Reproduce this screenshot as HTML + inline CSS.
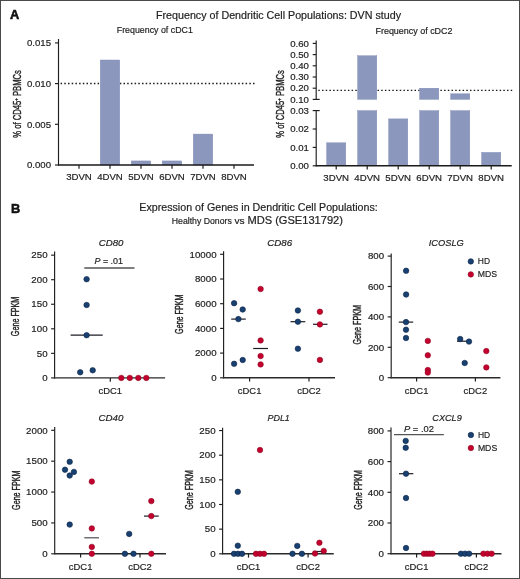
<!DOCTYPE html>
<html><head><meta charset="utf-8">
<style>
html,body{margin:0;padding:0;background:#fff;}
body{width:520px;height:579px;overflow:hidden;}
svg{display:block;font-family:"Liberation Sans", sans-serif;will-change:transform;}
text{stroke:#222;stroke-width:0.18px;}
</style></head>
<body>
<svg width="520" height="579" viewBox="0 0 520 579">
<rect x="0" y="0" width="520" height="579" fill="#fff"/>
<line x1="318.3" y1="90.4" x2="512.7" y2="90.4" stroke="#1a1a1a" stroke-width="1.4" stroke-dasharray="1.5 2.2"/>
<line x1="60.6" y1="83.5" x2="255" y2="83.5" stroke="#1a1a1a" stroke-width="1.4" stroke-dasharray="1.5 2.2"/>
<rect x="100.25" y="59.994" width="19.5" height="105.006" fill="#8c97bd" stroke="#7d89b4" stroke-width="0.4"/>
<rect x="131.25" y="160.93" width="19.5" height="4.069999999999993" fill="#8c97bd" stroke="#7d89b4" stroke-width="0.4"/>
<rect x="162.25" y="160.93" width="19.5" height="4.069999999999993" fill="#8c97bd" stroke="#7d89b4" stroke-width="0.4"/>
<rect x="193.25" y="134.068" width="19.5" height="30.931999999999988" fill="#8c97bd" stroke="#7d89b4" stroke-width="0.4"/>
<rect x="326.59999999999997" y="142.8" width="19.200000000000045" height="23.0" fill="#8c97bd" stroke="#7d89b4" stroke-width="0.4"/>
<rect x="357.59999999999997" y="110.60000000000002" width="19.200000000000045" height="55.19999999999999" fill="#8c97bd" stroke="#7d89b4" stroke-width="0.4"/>
<rect x="357.59999999999997" y="55.720000000000006" width="19.200000000000045" height="43.68" fill="#8c97bd" stroke="#7d89b4" stroke-width="0.4"/>
<rect x="388.59999999999997" y="118.88000000000002" width="19.200000000000045" height="46.91999999999999" fill="#8c97bd" stroke="#7d89b4" stroke-width="0.4"/>
<rect x="419.59999999999997" y="110.60000000000002" width="19.200000000000045" height="55.19999999999999" fill="#8c97bd" stroke="#7d89b4" stroke-width="0.4"/>
<rect x="419.59999999999997" y="88.2" width="19.200000000000045" height="11.200000000000003" fill="#8c97bd" stroke="#7d89b4" stroke-width="0.4"/>
<rect x="450.59999999999997" y="110.60000000000002" width="19.200000000000045" height="55.19999999999999" fill="#8c97bd" stroke="#7d89b4" stroke-width="0.4"/>
<rect x="450.59999999999997" y="93.80000000000001" width="19.200000000000045" height="5.599999999999994" fill="#8c97bd" stroke="#7d89b4" stroke-width="0.4"/>
<rect x="481.59999999999997" y="152.36800000000002" width="19.200000000000045" height="13.431999999999988" fill="#8c97bd" stroke="#7d89b4" stroke-width="0.4"/>
<text x="9.9" y="18.8" font-size="12.8" text-anchor="start" fill="#111" font-weight="bold" style="stroke:#111;stroke-width:0.55px">A</text>
<text x="156" y="18.5" font-size="10.3" text-anchor="start" fill="#222" textLength="245" lengthAdjust="spacingAndGlyphs" >Frequency of Dendritic Cell Populations: DVN study</text>
<text x="116.8" y="33.2" font-size="9" text-anchor="start" fill="#222" textLength="76" lengthAdjust="spacingAndGlyphs" >Frequency of cDC1</text>
<text x="375.5" y="33.6" font-size="9" text-anchor="start" fill="#222" textLength="77" lengthAdjust="spacingAndGlyphs" >Frequency of cDC2</text>
<line x1="58.5" y1="39" x2="58.5" y2="165.5" stroke="#1e1e1e" stroke-width="1.15" />
<line x1="55.0" y1="165.0" x2="58.5" y2="165.0" stroke="#1e1e1e" stroke-width="1.15" />
<text x="51" y="168.2" font-size="9" text-anchor="end" fill="#222" textLength="24.1" lengthAdjust="spacingAndGlyphs" >0.000</text>
<line x1="55.0" y1="124.3" x2="58.5" y2="124.3" stroke="#1e1e1e" stroke-width="1.15" />
<text x="51" y="127.5" font-size="9" text-anchor="end" fill="#222" textLength="24.1" lengthAdjust="spacingAndGlyphs" >0.005</text>
<line x1="55.0" y1="83.6" x2="58.5" y2="83.6" stroke="#1e1e1e" stroke-width="1.15" />
<text x="51" y="86.8" font-size="9" text-anchor="end" fill="#222" textLength="24.1" lengthAdjust="spacingAndGlyphs" >0.010</text>
<line x1="55.0" y1="42.89999999999999" x2="58.5" y2="42.89999999999999" stroke="#1e1e1e" stroke-width="1.15" />
<text x="51" y="46.099999999999994" font-size="9" text-anchor="end" fill="#222" textLength="24.1" lengthAdjust="spacingAndGlyphs" >0.015</text>
<line x1="58.0" y1="165" x2="254" y2="165" stroke="#1a1a1a" stroke-width="1.4" />
<line x1="79" y1="165" x2="79" y2="168.8" stroke="#1e1e1e" stroke-width="1.2" />
<text x="79" y="180.3" font-size="9" text-anchor="middle" fill="#222" textLength="25.69" lengthAdjust="spacingAndGlyphs" >3DVN</text>
<line x1="110" y1="165" x2="110" y2="168.8" stroke="#1e1e1e" stroke-width="1.2" />
<text x="110" y="180.3" font-size="9" text-anchor="middle" fill="#222" textLength="25.69" lengthAdjust="spacingAndGlyphs" >4DVN</text>
<line x1="141" y1="165" x2="141" y2="168.8" stroke="#1e1e1e" stroke-width="1.2" />
<text x="141" y="180.3" font-size="9" text-anchor="middle" fill="#222" textLength="25.69" lengthAdjust="spacingAndGlyphs" >5DVN</text>
<line x1="172" y1="165" x2="172" y2="168.8" stroke="#1e1e1e" stroke-width="1.2" />
<text x="172" y="180.3" font-size="9" text-anchor="middle" fill="#222" textLength="25.69" lengthAdjust="spacingAndGlyphs" >6DVN</text>
<line x1="203" y1="165" x2="203" y2="168.8" stroke="#1e1e1e" stroke-width="1.2" />
<text x="203" y="180.3" font-size="9" text-anchor="middle" fill="#222" textLength="25.69" lengthAdjust="spacingAndGlyphs" >7DVN</text>
<line x1="234" y1="165" x2="234" y2="168.8" stroke="#1e1e1e" stroke-width="1.2" />
<text x="234" y="180.3" font-size="9" text-anchor="middle" fill="#222" textLength="25.69" lengthAdjust="spacingAndGlyphs" >8DVN</text>
<text transform="translate(21.4,103.9) rotate(-90)" x="0" y="0" font-size="10.8" text-anchor="middle" fill="#222" style="stroke-width:0.4px" textLength="67.5" lengthAdjust="spacingAndGlyphs">% of CD45<tspan dy="-3.5" font-size="6">+</tspan><tspan dy="3.5"> PBMCs</tspan></text>
<line x1="316.2" y1="40.4" x2="316.2" y2="99.4" stroke="#1e1e1e" stroke-width="1.15" />
<line x1="312.7" y1="99.4" x2="319.7" y2="99.4" stroke="#1e1e1e" stroke-width="1.15" />
<text x="309" y="102.60000000000001" font-size="9" text-anchor="end" fill="#222" textLength="18.74" lengthAdjust="spacingAndGlyphs" >0.10</text>
<line x1="312.7" y1="88.2" x2="316.2" y2="88.2" stroke="#1e1e1e" stroke-width="1.15" />
<text x="309" y="91.4" font-size="9" text-anchor="end" fill="#222" textLength="18.74" lengthAdjust="spacingAndGlyphs" >0.20</text>
<line x1="312.7" y1="77.0" x2="316.2" y2="77.0" stroke="#1e1e1e" stroke-width="1.15" />
<text x="309" y="80.2" font-size="9" text-anchor="end" fill="#222" textLength="18.74" lengthAdjust="spacingAndGlyphs" >0.30</text>
<line x1="312.7" y1="65.80000000000001" x2="316.2" y2="65.80000000000001" stroke="#1e1e1e" stroke-width="1.15" />
<text x="309" y="69.00000000000001" font-size="9" text-anchor="end" fill="#222" textLength="18.74" lengthAdjust="spacingAndGlyphs" >0.40</text>
<line x1="312.7" y1="54.60000000000001" x2="316.2" y2="54.60000000000001" stroke="#1e1e1e" stroke-width="1.15" />
<text x="309" y="57.80000000000001" font-size="9" text-anchor="end" fill="#222" textLength="18.74" lengthAdjust="spacingAndGlyphs" >0.50</text>
<line x1="312.7" y1="43.400000000000006" x2="316.2" y2="43.400000000000006" stroke="#1e1e1e" stroke-width="1.15" />
<text x="309" y="46.60000000000001" font-size="9" text-anchor="end" fill="#222" textLength="18.74" lengthAdjust="spacingAndGlyphs" >0.60</text>
<line x1="316.2" y1="110.60000000000002" x2="316.2" y2="166.3" stroke="#1e1e1e" stroke-width="1.15" />
<line x1="312.7" y1="110.60000000000002" x2="319.7" y2="110.60000000000002" stroke="#1e1e1e" stroke-width="1.15" />
<line x1="312.7" y1="165.8" x2="316.2" y2="165.8" stroke="#1e1e1e" stroke-width="1.15" />
<text x="309" y="169.0" font-size="9" text-anchor="end" fill="#222" textLength="18.74" lengthAdjust="spacingAndGlyphs" >0.00</text>
<line x1="312.7" y1="147.4" x2="316.2" y2="147.4" stroke="#1e1e1e" stroke-width="1.15" />
<text x="309" y="150.6" font-size="9" text-anchor="end" fill="#222" textLength="18.74" lengthAdjust="spacingAndGlyphs" >0.01</text>
<line x1="312.7" y1="129.0" x2="316.2" y2="129.0" stroke="#1e1e1e" stroke-width="1.15" />
<text x="309" y="132.2" font-size="9" text-anchor="end" fill="#222" textLength="18.74" lengthAdjust="spacingAndGlyphs" >0.02</text>
<text x="309" y="113.80000000000003" font-size="9" text-anchor="end" fill="#222" textLength="18.74" lengthAdjust="spacingAndGlyphs" >0.03</text>
<line x1="315.7" y1="165.8" x2="511.7" y2="165.8" stroke="#1a1a1a" stroke-width="1.4" />
<line x1="336.2" y1="165.8" x2="336.2" y2="169.60000000000002" stroke="#1e1e1e" stroke-width="1.2" />
<text x="336.2" y="181" font-size="9" text-anchor="middle" fill="#222" textLength="25.69" lengthAdjust="spacingAndGlyphs" >3DVN</text>
<line x1="367.2" y1="165.8" x2="367.2" y2="169.60000000000002" stroke="#1e1e1e" stroke-width="1.2" />
<text x="367.2" y="181" font-size="9" text-anchor="middle" fill="#222" textLength="25.69" lengthAdjust="spacingAndGlyphs" >4DVN</text>
<line x1="398.2" y1="165.8" x2="398.2" y2="169.60000000000002" stroke="#1e1e1e" stroke-width="1.2" />
<text x="398.2" y="181" font-size="9" text-anchor="middle" fill="#222" textLength="25.69" lengthAdjust="spacingAndGlyphs" >5DVN</text>
<line x1="429.2" y1="165.8" x2="429.2" y2="169.60000000000002" stroke="#1e1e1e" stroke-width="1.2" />
<text x="429.2" y="181" font-size="9" text-anchor="middle" fill="#222" textLength="25.69" lengthAdjust="spacingAndGlyphs" >6DVN</text>
<line x1="460.2" y1="165.8" x2="460.2" y2="169.60000000000002" stroke="#1e1e1e" stroke-width="1.2" />
<text x="460.2" y="181" font-size="9" text-anchor="middle" fill="#222" textLength="25.69" lengthAdjust="spacingAndGlyphs" >7DVN</text>
<line x1="491.2" y1="165.8" x2="491.2" y2="169.60000000000002" stroke="#1e1e1e" stroke-width="1.2" />
<text x="491.2" y="181" font-size="9" text-anchor="middle" fill="#222" textLength="25.69" lengthAdjust="spacingAndGlyphs" >8DVN</text>
<text transform="translate(284,103.9) rotate(-90)" x="0" y="0" font-size="10.8" text-anchor="middle" fill="#222" style="stroke-width:0.4px" textLength="67.5" lengthAdjust="spacingAndGlyphs">% of CD45<tspan dy="-3.5" font-size="6">+</tspan><tspan dy="3.5"> PBMCs</tspan></text>
<text x="11" y="212.8" font-size="12.8" text-anchor="start" fill="#111" font-weight="bold" style="stroke:#111;stroke-width:0.55px">B</text>
<text x="139.3" y="210.8" font-size="10.3" text-anchor="start" fill="#222" textLength="238.5" lengthAdjust="spacingAndGlyphs" >Expression of Genes in Dendritic Cell Populations:</text>
<text x="171.8" y="224" font-size="8.7" text-anchor="start" fill="#222" textLength="60" lengthAdjust="spacingAndGlyphs" >Healthy Donors</text>
<text x="234.4" y="224" font-size="9.8" text-anchor="start" fill="#222" textLength="10.2" lengthAdjust="spacingAndGlyphs" >vs</text>
<text x="247.4" y="224" font-size="10" text-anchor="start" fill="#222" textLength="95.6" lengthAdjust="spacingAndGlyphs" >MDS (GSE131792)</text>
<line x1="54.6" y1="251.5" x2="54.6" y2="378.4" stroke="#1e1e1e" stroke-width="1.15" />
<line x1="51.1" y1="377.9" x2="54.6" y2="377.9" stroke="#1e1e1e" stroke-width="1.15" />
<text x="47.6" y="381.09999999999997" font-size="9" text-anchor="end" fill="#222" textLength="5.41" lengthAdjust="spacingAndGlyphs" >0</text>
<line x1="51.1" y1="353.34999999999997" x2="54.6" y2="353.34999999999997" stroke="#1e1e1e" stroke-width="1.15" />
<text x="47.6" y="356.54999999999995" font-size="9" text-anchor="end" fill="#222" textLength="10.81" lengthAdjust="spacingAndGlyphs" >50</text>
<line x1="51.1" y1="328.79999999999995" x2="54.6" y2="328.79999999999995" stroke="#1e1e1e" stroke-width="1.15" />
<text x="47.6" y="331.99999999999994" font-size="9" text-anchor="end" fill="#222" textLength="16.22" lengthAdjust="spacingAndGlyphs" >100</text>
<line x1="51.1" y1="304.25" x2="54.6" y2="304.25" stroke="#1e1e1e" stroke-width="1.15" />
<text x="47.6" y="307.45" font-size="9" text-anchor="end" fill="#222" textLength="16.22" lengthAdjust="spacingAndGlyphs" >150</text>
<line x1="51.1" y1="279.7" x2="54.6" y2="279.7" stroke="#1e1e1e" stroke-width="1.15" />
<text x="47.6" y="282.9" font-size="9" text-anchor="end" fill="#222" textLength="16.22" lengthAdjust="spacingAndGlyphs" >200</text>
<line x1="51.1" y1="255.14999999999998" x2="54.6" y2="255.14999999999998" stroke="#1e1e1e" stroke-width="1.15" />
<text x="47.6" y="258.34999999999997" font-size="9" text-anchor="end" fill="#222" textLength="16.22" lengthAdjust="spacingAndGlyphs" >250</text>
<line x1="54.1" y1="377.9" x2="165.1" y2="377.9" stroke="#2a2a2a" stroke-width="1.4" />
<line x1="110.3" y1="377.9" x2="110.3" y2="381.7" stroke="#1e1e1e" stroke-width="1.2" />
<text x="110.3" y="393.7" font-size="9" text-anchor="middle" fill="#222" textLength="23.6" lengthAdjust="spacingAndGlyphs" >cDC1</text>
<text x="98.7" y="246" font-size="9.3" text-anchor="start" fill="#222" font-style="italic" textLength="24.7" lengthAdjust="spacingAndGlyphs" >CD80</text>
<text transform="translate(19.3,316.4) rotate(-90)" x="0" y="0" font-size="11" text-anchor="middle" fill="#222" style="stroke-width:0.4px" textLength="39.5" lengthAdjust="spacingAndGlyphs">Gene FPKM</text>
<line x1="70.6" y1="335.2" x2="102.7" y2="335.2" stroke="#1c1c24" stroke-width="1.2" />
<circle cx="80.2" cy="372.3" r="2.75" fill="#184171" stroke="#0b2446" stroke-width="0.6"/>
<circle cx="92.7" cy="370.3" r="2.75" fill="#184171" stroke="#0b2446" stroke-width="0.6"/>
<circle cx="86.6" cy="335.2" r="2.75" fill="#184171" stroke="#0b2446" stroke-width="0.6"/>
<circle cx="86.6" cy="305" r="2.75" fill="#184171" stroke="#0b2446" stroke-width="0.6"/>
<circle cx="86.6" cy="279.2" r="2.75" fill="#184171" stroke="#0b2446" stroke-width="0.6"/>
<circle cx="121.3" cy="377.9" r="2.75" fill="#c4002e" stroke="#8e0822" stroke-width="0.6"/>
<circle cx="129.8" cy="377.9" r="2.75" fill="#c4002e" stroke="#8e0822" stroke-width="0.6"/>
<circle cx="138.3" cy="377.9" r="2.75" fill="#c4002e" stroke="#8e0822" stroke-width="0.6"/>
<circle cx="146.3" cy="377.9" r="2.75" fill="#c4002e" stroke="#8e0822" stroke-width="0.6"/>
<line x1="84.3" y1="268" x2="134.5" y2="268" stroke="#555" stroke-width="1.4" />
<text x="94.5" y="263.7" font-size="9.3" fill="#222" textLength="28.5" lengthAdjust="spacingAndGlyphs"><tspan font-style="italic">P</tspan> = .01</text>
<line x1="223.6" y1="251.3" x2="223.6" y2="378.3" stroke="#1e1e1e" stroke-width="1.15" />
<line x1="220.1" y1="377.8" x2="223.6" y2="377.8" stroke="#1e1e1e" stroke-width="1.15" />
<text x="216.6" y="381.0" font-size="9" text-anchor="end" fill="#222" textLength="5.41" lengthAdjust="spacingAndGlyphs" >0</text>
<line x1="220.1" y1="353.1" x2="223.6" y2="353.1" stroke="#1e1e1e" stroke-width="1.15" />
<text x="216.6" y="356.3" font-size="9" text-anchor="end" fill="#222" textLength="21.62" lengthAdjust="spacingAndGlyphs" >2000</text>
<line x1="220.1" y1="328.40000000000003" x2="223.6" y2="328.40000000000003" stroke="#1e1e1e" stroke-width="1.15" />
<text x="216.6" y="331.6" font-size="9" text-anchor="end" fill="#222" textLength="21.62" lengthAdjust="spacingAndGlyphs" >4000</text>
<line x1="220.1" y1="303.70000000000005" x2="223.6" y2="303.70000000000005" stroke="#1e1e1e" stroke-width="1.15" />
<text x="216.6" y="306.90000000000003" font-size="9" text-anchor="end" fill="#222" textLength="21.62" lengthAdjust="spacingAndGlyphs" >6000</text>
<line x1="220.1" y1="279.0" x2="223.6" y2="279.0" stroke="#1e1e1e" stroke-width="1.15" />
<text x="216.6" y="282.2" font-size="9" text-anchor="end" fill="#222" textLength="21.62" lengthAdjust="spacingAndGlyphs" >8000</text>
<line x1="220.1" y1="254.3" x2="223.6" y2="254.3" stroke="#1e1e1e" stroke-width="1.15" />
<text x="216.6" y="257.5" font-size="9" text-anchor="end" fill="#222" textLength="27.03" lengthAdjust="spacingAndGlyphs" >10000</text>
<line x1="223.1" y1="377.8" x2="335" y2="377.8" stroke="#2a2a2a" stroke-width="1.4" />
<line x1="249.6" y1="377.8" x2="249.6" y2="381.6" stroke="#1e1e1e" stroke-width="1.2" />
<text x="249.6" y="393.6" font-size="9" text-anchor="middle" fill="#222" textLength="23.6" lengthAdjust="spacingAndGlyphs" >cDC1</text>
<line x1="309" y1="377.8" x2="309" y2="381.6" stroke="#1e1e1e" stroke-width="1.2" />
<text x="309" y="393.6" font-size="9" text-anchor="middle" fill="#222" textLength="23.6" lengthAdjust="spacingAndGlyphs" >cDC2</text>
<text x="267.3" y="246" font-size="9.3" text-anchor="start" fill="#222" font-style="italic" textLength="24.8" lengthAdjust="spacingAndGlyphs" >CD86</text>
<text transform="translate(182.7,314.2) rotate(-90)" x="0" y="0" font-size="11" text-anchor="middle" fill="#222" style="stroke-width:0.4px" textLength="39.5" lengthAdjust="spacingAndGlyphs">Gene FPKM</text>
<line x1="231.2" y1="319.1" x2="245.8" y2="319.1" stroke="#1c1c24" stroke-width="1.2" />
<line x1="253.2" y1="348.5" x2="268" y2="348.5" stroke="#1c1c24" stroke-width="1.2" />
<line x1="290.5" y1="321.7" x2="305.3" y2="321.7" stroke="#1c1c24" stroke-width="1.2" />
<line x1="313" y1="324.3" x2="327.5" y2="324.3" stroke="#1c1c24" stroke-width="1.2" />
<circle cx="234.1" cy="303.2" r="2.75" fill="#184171" stroke="#0b2446" stroke-width="0.6"/>
<circle cx="242.7" cy="309.5" r="2.75" fill="#184171" stroke="#0b2446" stroke-width="0.6"/>
<circle cx="238.4" cy="319.1" r="2.75" fill="#184171" stroke="#0b2446" stroke-width="0.6"/>
<circle cx="234.1" cy="363.8" r="2.75" fill="#184171" stroke="#0b2446" stroke-width="0.6"/>
<circle cx="242.7" cy="360" r="2.75" fill="#184171" stroke="#0b2446" stroke-width="0.6"/>
<circle cx="260.6" cy="289" r="2.75" fill="#c4002e" stroke="#8e0822" stroke-width="0.6"/>
<circle cx="260.6" cy="340.4" r="2.75" fill="#c4002e" stroke="#8e0822" stroke-width="0.6"/>
<circle cx="260.6" cy="356.1" r="2.75" fill="#c4002e" stroke="#8e0822" stroke-width="0.6"/>
<circle cx="260.6" cy="364.4" r="2.75" fill="#c4002e" stroke="#8e0822" stroke-width="0.6"/>
<circle cx="297.9" cy="310.5" r="2.75" fill="#184171" stroke="#0b2446" stroke-width="0.6"/>
<circle cx="297.9" cy="321.7" r="2.75" fill="#184171" stroke="#0b2446" stroke-width="0.6"/>
<circle cx="297.9" cy="348.7" r="2.75" fill="#184171" stroke="#0b2446" stroke-width="0.6"/>
<circle cx="319.9" cy="311.7" r="2.75" fill="#c4002e" stroke="#8e0822" stroke-width="0.6"/>
<circle cx="319.9" cy="324.4" r="2.75" fill="#c4002e" stroke="#8e0822" stroke-width="0.6"/>
<circle cx="319.9" cy="359.9" r="2.75" fill="#c4002e" stroke="#8e0822" stroke-width="0.6"/>
<line x1="391.2" y1="253.5" x2="391.2" y2="378.2" stroke="#1e1e1e" stroke-width="1.15" />
<line x1="387.7" y1="377.7" x2="391.2" y2="377.7" stroke="#1e1e1e" stroke-width="1.15" />
<text x="384.2" y="380.9" font-size="9" text-anchor="end" fill="#222" textLength="5.41" lengthAdjust="spacingAndGlyphs" >0</text>
<line x1="387.7" y1="347.3" x2="391.2" y2="347.3" stroke="#1e1e1e" stroke-width="1.15" />
<text x="384.2" y="350.5" font-size="9" text-anchor="end" fill="#222" textLength="16.22" lengthAdjust="spacingAndGlyphs" >200</text>
<line x1="387.7" y1="316.9" x2="391.2" y2="316.9" stroke="#1e1e1e" stroke-width="1.15" />
<text x="384.2" y="320.09999999999997" font-size="9" text-anchor="end" fill="#222" textLength="16.22" lengthAdjust="spacingAndGlyphs" >400</text>
<line x1="387.7" y1="286.5" x2="391.2" y2="286.5" stroke="#1e1e1e" stroke-width="1.15" />
<text x="384.2" y="289.7" font-size="9" text-anchor="end" fill="#222" textLength="16.22" lengthAdjust="spacingAndGlyphs" >600</text>
<line x1="387.7" y1="256.1" x2="391.2" y2="256.1" stroke="#1e1e1e" stroke-width="1.15" />
<text x="384.2" y="259.3" font-size="9" text-anchor="end" fill="#222" textLength="16.22" lengthAdjust="spacingAndGlyphs" >800</text>
<line x1="390.7" y1="377.7" x2="500.4" y2="377.7" stroke="#2a2a2a" stroke-width="1.4" />
<line x1="416.6" y1="377.7" x2="416.6" y2="381.5" stroke="#1e1e1e" stroke-width="1.2" />
<text x="416.6" y="393.5" font-size="9" text-anchor="middle" fill="#222" textLength="23.6" lengthAdjust="spacingAndGlyphs" >cDC1</text>
<line x1="475.4" y1="377.7" x2="475.4" y2="381.5" stroke="#1e1e1e" stroke-width="1.2" />
<text x="475.4" y="393.5" font-size="9" text-anchor="middle" fill="#222" textLength="23.6" lengthAdjust="spacingAndGlyphs" >cDC2</text>
<text x="428.8" y="245.8" font-size="9.3" text-anchor="start" fill="#222" font-style="italic" textLength="35" lengthAdjust="spacingAndGlyphs" >ICOSLG</text>
<text transform="translate(361.2,324.8) rotate(-90)" x="0" y="0" font-size="11" text-anchor="middle" fill="#222" style="stroke-width:0.4px" textLength="39.5" lengthAdjust="spacingAndGlyphs">Gene FPKM</text>
<line x1="398.8" y1="322.1" x2="413.2" y2="322.1" stroke="#1c1c24" stroke-width="1.2" />
<line x1="457" y1="341.2" x2="471" y2="341.2" stroke="#1c1c24" stroke-width="1.2" />
<circle cx="406.1" cy="270.8" r="2.75" fill="#184171" stroke="#0b2446" stroke-width="0.6"/>
<circle cx="406.1" cy="294.5" r="2.75" fill="#184171" stroke="#0b2446" stroke-width="0.6"/>
<circle cx="406" cy="322.1" r="2.75" fill="#184171" stroke="#0b2446" stroke-width="0.6"/>
<circle cx="406" cy="329.7" r="2.75" fill="#184171" stroke="#0b2446" stroke-width="0.6"/>
<circle cx="406" cy="338" r="2.75" fill="#184171" stroke="#0b2446" stroke-width="0.6"/>
<circle cx="427.8" cy="340.9" r="2.75" fill="#c4002e" stroke="#8e0822" stroke-width="0.6"/>
<circle cx="427.8" cy="355.3" r="2.75" fill="#c4002e" stroke="#8e0822" stroke-width="0.6"/>
<circle cx="427.8" cy="370" r="2.75" fill="#c4002e" stroke="#8e0822" stroke-width="0.6"/>
<circle cx="427.8" cy="372.6" r="2.75" fill="#c4002e" stroke="#8e0822" stroke-width="0.6"/>
<circle cx="460.2" cy="339" r="2.75" fill="#184171" stroke="#0b2446" stroke-width="0.6"/>
<circle cx="469" cy="341.6" r="2.75" fill="#184171" stroke="#0b2446" stroke-width="0.6"/>
<circle cx="464.7" cy="363" r="2.75" fill="#184171" stroke="#0b2446" stroke-width="0.6"/>
<circle cx="486.3" cy="351.1" r="2.75" fill="#c4002e" stroke="#8e0822" stroke-width="0.6"/>
<circle cx="486.3" cy="367.4" r="2.75" fill="#c4002e" stroke="#8e0822" stroke-width="0.6"/>
<circle cx="470.8" cy="261.4" r="2.75" fill="#184171" stroke="#0b2446" stroke-width="0.6"/>
<text x="477.8" y="264.4" font-size="9.3" text-anchor="start" fill="#222" textLength="12.2" lengthAdjust="spacingAndGlyphs" >HD</text>
<circle cx="470.8" cy="274.4" r="2.75" fill="#c4002e" stroke="#8e0822" stroke-width="0.6"/>
<text x="477.8" y="277.4" font-size="9.3" text-anchor="start" fill="#222" textLength="19.3" lengthAdjust="spacingAndGlyphs" >MDS</text>
<line x1="54.7" y1="427.1" x2="54.7" y2="554.3" stroke="#1e1e1e" stroke-width="1.15" />
<line x1="51.2" y1="553.8" x2="54.7" y2="553.8" stroke="#1e1e1e" stroke-width="1.15" />
<text x="47.7" y="557.0" font-size="9" text-anchor="end" fill="#222" textLength="5.41" lengthAdjust="spacingAndGlyphs" >0</text>
<line x1="51.2" y1="522.93" x2="54.7" y2="522.93" stroke="#1e1e1e" stroke-width="1.15" />
<text x="47.7" y="526.13" font-size="9" text-anchor="end" fill="#222" textLength="16.22" lengthAdjust="spacingAndGlyphs" >500</text>
<line x1="51.2" y1="492.05999999999995" x2="54.7" y2="492.05999999999995" stroke="#1e1e1e" stroke-width="1.15" />
<text x="47.7" y="495.25999999999993" font-size="9" text-anchor="end" fill="#222" textLength="21.62" lengthAdjust="spacingAndGlyphs" >1000</text>
<line x1="51.2" y1="461.18999999999994" x2="54.7" y2="461.18999999999994" stroke="#1e1e1e" stroke-width="1.15" />
<text x="47.7" y="464.38999999999993" font-size="9" text-anchor="end" fill="#222" textLength="21.62" lengthAdjust="spacingAndGlyphs" >1500</text>
<line x1="51.2" y1="430.31999999999994" x2="54.7" y2="430.31999999999994" stroke="#1e1e1e" stroke-width="1.15" />
<text x="47.7" y="433.5199999999999" font-size="9" text-anchor="end" fill="#222" textLength="21.62" lengthAdjust="spacingAndGlyphs" >2000</text>
<line x1="54.2" y1="553.8" x2="166" y2="553.8" stroke="#2a2a2a" stroke-width="1.4" />
<line x1="80.6" y1="553.8" x2="80.6" y2="557.5999999999999" stroke="#1e1e1e" stroke-width="1.2" />
<text x="80.6" y="569.5999999999999" font-size="9" text-anchor="middle" fill="#222" textLength="23.6" lengthAdjust="spacingAndGlyphs" >cDC1</text>
<line x1="140" y1="553.8" x2="140" y2="557.5999999999999" stroke="#1e1e1e" stroke-width="1.2" />
<text x="140" y="569.5999999999999" font-size="9" text-anchor="middle" fill="#222" textLength="23.6" lengthAdjust="spacingAndGlyphs" >cDC2</text>
<text x="98.5" y="421" font-size="9.3" text-anchor="start" fill="#222" font-style="italic" textLength="24.8" lengthAdjust="spacingAndGlyphs" >CD40</text>
<text transform="translate(19.5,490.2) rotate(-90)" x="0" y="0" font-size="11" text-anchor="middle" fill="#222" style="stroke-width:0.4px" textLength="39.5" lengthAdjust="spacingAndGlyphs">Gene FPKM</text>
<line x1="84.3" y1="537.8" x2="99" y2="537.8" stroke="#4d4d52" stroke-width="1.2" />
<line x1="144" y1="516.1" x2="158.7" y2="516.1" stroke="#1c1c24" stroke-width="1.2" />
<circle cx="69.7" cy="461.8" r="2.75" fill="#184171" stroke="#0b2446" stroke-width="0.6"/>
<circle cx="65" cy="469.7" r="2.75" fill="#184171" stroke="#0b2446" stroke-width="0.6"/>
<circle cx="73.9" cy="471.9" r="2.75" fill="#184171" stroke="#0b2446" stroke-width="0.6"/>
<circle cx="69.7" cy="475.5" r="2.75" fill="#184171" stroke="#0b2446" stroke-width="0.6"/>
<circle cx="69.7" cy="524.6" r="2.75" fill="#184171" stroke="#0b2446" stroke-width="0.6"/>
<circle cx="91.8" cy="481.6" r="2.75" fill="#c4002e" stroke="#8e0822" stroke-width="0.6"/>
<circle cx="91.8" cy="528.4" r="2.75" fill="#c4002e" stroke="#8e0822" stroke-width="0.6"/>
<circle cx="91.8" cy="546.9" r="2.75" fill="#c4002e" stroke="#8e0822" stroke-width="0.6"/>
<circle cx="91.8" cy="553.8" r="2.75" fill="#c4002e" stroke="#8e0822" stroke-width="0.6"/>
<circle cx="129.2" cy="533.9" r="2.75" fill="#184171" stroke="#0b2446" stroke-width="0.6"/>
<circle cx="124.9" cy="553.8" r="2.75" fill="#184171" stroke="#0b2446" stroke-width="0.6"/>
<circle cx="133.5" cy="553.8" r="2.75" fill="#184171" stroke="#0b2446" stroke-width="0.6"/>
<circle cx="151.3" cy="501.1" r="2.75" fill="#c4002e" stroke="#8e0822" stroke-width="0.6"/>
<circle cx="151.3" cy="516.1" r="2.75" fill="#c4002e" stroke="#8e0822" stroke-width="0.6"/>
<circle cx="151.3" cy="553.8" r="2.75" fill="#c4002e" stroke="#8e0822" stroke-width="0.6"/>
<line x1="222.6" y1="427.7" x2="222.6" y2="554.3" stroke="#1e1e1e" stroke-width="1.15" />
<line x1="219.1" y1="553.8" x2="222.6" y2="553.8" stroke="#1e1e1e" stroke-width="1.15" />
<text x="215.6" y="557.0" font-size="9" text-anchor="end" fill="#222" textLength="5.41" lengthAdjust="spacingAndGlyphs" >0</text>
<line x1="219.1" y1="529.15" x2="222.6" y2="529.15" stroke="#1e1e1e" stroke-width="1.15" />
<text x="215.6" y="532.35" font-size="9" text-anchor="end" fill="#222" textLength="10.81" lengthAdjust="spacingAndGlyphs" >50</text>
<line x1="219.1" y1="504.49999999999994" x2="222.6" y2="504.49999999999994" stroke="#1e1e1e" stroke-width="1.15" />
<text x="215.6" y="507.69999999999993" font-size="9" text-anchor="end" fill="#222" textLength="16.22" lengthAdjust="spacingAndGlyphs" >100</text>
<line x1="219.1" y1="479.84999999999997" x2="222.6" y2="479.84999999999997" stroke="#1e1e1e" stroke-width="1.15" />
<text x="215.6" y="483.04999999999995" font-size="9" text-anchor="end" fill="#222" textLength="16.22" lengthAdjust="spacingAndGlyphs" >150</text>
<line x1="219.1" y1="455.19999999999993" x2="222.6" y2="455.19999999999993" stroke="#1e1e1e" stroke-width="1.15" />
<text x="215.6" y="458.3999999999999" font-size="9" text-anchor="end" fill="#222" textLength="16.22" lengthAdjust="spacingAndGlyphs" >200</text>
<line x1="219.1" y1="430.54999999999995" x2="222.6" y2="430.54999999999995" stroke="#1e1e1e" stroke-width="1.15" />
<text x="215.6" y="433.74999999999994" font-size="9" text-anchor="end" fill="#222" textLength="16.22" lengthAdjust="spacingAndGlyphs" >250</text>
<line x1="222.1" y1="553.8" x2="333.75" y2="553.8" stroke="#2a2a2a" stroke-width="1.4" />
<line x1="248.5" y1="553.8" x2="248.5" y2="557.5999999999999" stroke="#1e1e1e" stroke-width="1.2" />
<text x="248.5" y="569.5999999999999" font-size="9" text-anchor="middle" fill="#222" textLength="23.6" lengthAdjust="spacingAndGlyphs" >cDC1</text>
<line x1="308.1" y1="553.8" x2="308.1" y2="557.5999999999999" stroke="#1e1e1e" stroke-width="1.2" />
<text x="308.1" y="569.5999999999999" font-size="9" text-anchor="middle" fill="#222" textLength="23.6" lengthAdjust="spacingAndGlyphs" >cDC2</text>
<text x="267.5" y="421" font-size="9.3" text-anchor="start" fill="#222" font-style="italic" textLength="22.3" lengthAdjust="spacingAndGlyphs" >PDL1</text>
<text transform="translate(192.7,490) rotate(-90)" x="0" y="0" font-size="11" text-anchor="middle" fill="#222" style="stroke-width:0.4px" textLength="39.5" lengthAdjust="spacingAndGlyphs">Gene FPKM</text>
<line x1="313" y1="551.5" x2="326" y2="551.5" stroke="#1c1c24" stroke-width="1.2" />
<circle cx="237.8" cy="491.8" r="2.75" fill="#184171" stroke="#0b2446" stroke-width="0.6"/>
<circle cx="237.8" cy="545.7" r="2.75" fill="#184171" stroke="#0b2446" stroke-width="0.6"/>
<circle cx="234" cy="553.8" r="2.75" fill="#184171" stroke="#0b2446" stroke-width="0.6"/>
<circle cx="238" cy="553.8" r="2.75" fill="#184171" stroke="#0b2446" stroke-width="0.6"/>
<circle cx="242" cy="553.8" r="2.75" fill="#184171" stroke="#0b2446" stroke-width="0.6"/>
<circle cx="260" cy="450" r="2.75" fill="#c4002e" stroke="#8e0822" stroke-width="0.6"/>
<circle cx="256" cy="553.8" r="2.75" fill="#c4002e" stroke="#8e0822" stroke-width="0.6"/>
<circle cx="260" cy="553.8" r="2.75" fill="#c4002e" stroke="#8e0822" stroke-width="0.6"/>
<circle cx="264" cy="553.8" r="2.75" fill="#c4002e" stroke="#8e0822" stroke-width="0.6"/>
<circle cx="297.25" cy="545.9" r="2.75" fill="#184171" stroke="#0b2446" stroke-width="0.6"/>
<circle cx="292.5" cy="553.8" r="2.75" fill="#184171" stroke="#0b2446" stroke-width="0.6"/>
<circle cx="301.9" cy="553.8" r="2.75" fill="#184171" stroke="#0b2446" stroke-width="0.6"/>
<circle cx="319.4" cy="542.75" r="2.75" fill="#c4002e" stroke="#8e0822" stroke-width="0.6"/>
<circle cx="323.75" cy="550.9" r="2.75" fill="#c4002e" stroke="#8e0822" stroke-width="0.6"/>
<circle cx="315" cy="553.5" r="2.75" fill="#c4002e" stroke="#8e0822" stroke-width="0.6"/>
<line x1="391" y1="427.4" x2="391" y2="554.2" stroke="#1e1e1e" stroke-width="1.15" />
<line x1="387.5" y1="553.7" x2="391" y2="553.7" stroke="#1e1e1e" stroke-width="1.15" />
<text x="384" y="556.9000000000001" font-size="9" text-anchor="end" fill="#222" textLength="5.41" lengthAdjust="spacingAndGlyphs" >0</text>
<line x1="387.5" y1="523.0" x2="391" y2="523.0" stroke="#1e1e1e" stroke-width="1.15" />
<text x="384" y="526.2" font-size="9" text-anchor="end" fill="#222" textLength="16.22" lengthAdjust="spacingAndGlyphs" >200</text>
<line x1="387.5" y1="492.30000000000007" x2="391" y2="492.30000000000007" stroke="#1e1e1e" stroke-width="1.15" />
<text x="384" y="495.50000000000006" font-size="9" text-anchor="end" fill="#222" textLength="16.22" lengthAdjust="spacingAndGlyphs" >400</text>
<line x1="387.5" y1="461.6" x2="391" y2="461.6" stroke="#1e1e1e" stroke-width="1.15" />
<text x="384" y="464.8" font-size="9" text-anchor="end" fill="#222" textLength="16.22" lengthAdjust="spacingAndGlyphs" >600</text>
<line x1="387.5" y1="430.90000000000003" x2="391" y2="430.90000000000003" stroke="#1e1e1e" stroke-width="1.15" />
<text x="384" y="434.1" font-size="9" text-anchor="end" fill="#222" textLength="16.22" lengthAdjust="spacingAndGlyphs" >800</text>
<line x1="390.5" y1="553.7" x2="501.5" y2="553.7" stroke="#2a2a2a" stroke-width="1.4" />
<line x1="416.6" y1="553.7" x2="416.6" y2="557.5" stroke="#1e1e1e" stroke-width="1.2" />
<text x="416.6" y="569.5" font-size="9" text-anchor="middle" fill="#222" textLength="23.6" lengthAdjust="spacingAndGlyphs" >cDC1</text>
<line x1="476.4" y1="553.7" x2="476.4" y2="557.5" stroke="#1e1e1e" stroke-width="1.2" />
<text x="476.4" y="569.5" font-size="9" text-anchor="middle" fill="#222" textLength="23.6" lengthAdjust="spacingAndGlyphs" >cDC2</text>
<text x="432.3" y="420.7" font-size="9.3" text-anchor="start" fill="#222" font-style="italic" textLength="29.5" lengthAdjust="spacingAndGlyphs" >CXCL9</text>
<text transform="translate(361.5,490) rotate(-90)" x="0" y="0" font-size="11" text-anchor="middle" fill="#222" style="stroke-width:0.4px" textLength="39.5" lengthAdjust="spacingAndGlyphs">Gene FPKM</text>
<line x1="399" y1="473.7" x2="413.3" y2="473.7" stroke="#1c1c24" stroke-width="1.2" />
<circle cx="405.7" cy="440.9" r="2.75" fill="#184171" stroke="#0b2446" stroke-width="0.6"/>
<circle cx="405.7" cy="447.8" r="2.75" fill="#184171" stroke="#0b2446" stroke-width="0.6"/>
<circle cx="406" cy="473.7" r="2.75" fill="#184171" stroke="#0b2446" stroke-width="0.6"/>
<circle cx="406" cy="498" r="2.75" fill="#184171" stroke="#0b2446" stroke-width="0.6"/>
<circle cx="406" cy="548" r="2.75" fill="#184171" stroke="#0b2446" stroke-width="0.6"/>
<circle cx="423.9" cy="553.7" r="2.75" fill="#c4002e" stroke="#8e0822" stroke-width="0.6"/>
<circle cx="426.8" cy="553.7" r="2.75" fill="#c4002e" stroke="#8e0822" stroke-width="0.6"/>
<circle cx="429.6" cy="553.7" r="2.75" fill="#c4002e" stroke="#8e0822" stroke-width="0.6"/>
<circle cx="432.5" cy="553.7" r="2.75" fill="#c4002e" stroke="#8e0822" stroke-width="0.6"/>
<circle cx="460.9" cy="553.7" r="2.75" fill="#184171" stroke="#0b2446" stroke-width="0.6"/>
<circle cx="465" cy="553.7" r="2.75" fill="#184171" stroke="#0b2446" stroke-width="0.6"/>
<circle cx="469.1" cy="553.7" r="2.75" fill="#184171" stroke="#0b2446" stroke-width="0.6"/>
<circle cx="483.4" cy="553.7" r="2.75" fill="#c4002e" stroke="#8e0822" stroke-width="0.6"/>
<circle cx="487.5" cy="553.7" r="2.75" fill="#c4002e" stroke="#8e0822" stroke-width="0.6"/>
<circle cx="491.6" cy="553.7" r="2.75" fill="#c4002e" stroke="#8e0822" stroke-width="0.6"/>
<line x1="394" y1="434.6" x2="443.8" y2="434.6" stroke="#555" stroke-width="1.4" />
<text x="404" y="432.2" font-size="9.3" fill="#222" textLength="29.9" lengthAdjust="spacingAndGlyphs"><tspan font-style="italic">P</tspan> = .02</text>
<circle cx="470.9" cy="435" r="2.75" fill="#184171" stroke="#0b2446" stroke-width="0.6"/>
<text x="477.9" y="438" font-size="9.3" text-anchor="start" fill="#222" textLength="12.2" lengthAdjust="spacingAndGlyphs" >HD</text>
<circle cx="470.9" cy="448" r="2.75" fill="#c4002e" stroke="#8e0822" stroke-width="0.6"/>
<text x="477.9" y="451" font-size="9.3" text-anchor="start" fill="#222" textLength="19.3" lengthAdjust="spacingAndGlyphs" >MDS</text>
<rect x="0.5" y="0.5" width="519" height="578" fill="none" stroke="#4a4a4a" stroke-width="1"/>
</svg>
</body></html>
